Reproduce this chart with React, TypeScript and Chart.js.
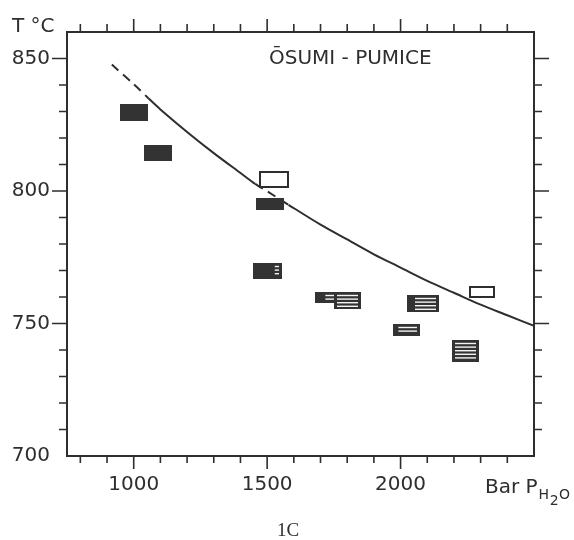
import React, { useEffect, useRef } from "react";
import { Chart, registerables } from "chart.js";

Chart.register(...registerables);

// ---- data ----
const curveP = [918, 1000, 1055, 1100, 1200, 1300, 1400, 1455, 1500, 1580, 1700, 1800, 1900, 2000, 2100, 2200, 2300, 2400, 2500];
const curveT = [847.7, 840.3, 835.0, 830.8, 822.3, 814.3, 806.8, 802.7, 799.9, 794.8, 787.3, 781.7, 776.1, 771.1, 766.1, 761.6, 757.1, 753.1, 749.1];
const dashedSegments = [0, 1, 7, 8];

const boxPMin = [950, 1040, 1470, 1460, 1448, 1680, 1750, 2023, 1973, 2194, 2256];
const boxPMax = [1055, 1145, 1583, 1563, 1554, 1767, 1851, 2144, 2073, 2294, 2354];
const boxTMin = [826.3, 811.4, 801.1, 792.9, 766.9, 757.7, 755.4, 754.5, 745.3, 735.6, 759.8];
const boxTMax = [833, 817.5, 807.4, 797.4, 773, 762, 762, 760.8, 750, 743.8, 764];
const boxKind = ["solid", "solid", "open", "solid", "hatch", "hatch", "hatch", "hatch", "hatch", "hatch", "open"];
const boxSolidFrac = [1, 1, 0, 1, 0.75, 0.45, 0.1, 0.25, 0.2, 0.1, 0];

const xTickLabels = [1000, 1500, 2000];
const yTickLabels = [700, 750, 800, 850];
const xMinorTicks = [800, 900, 1000, 1100, 1200, 1300, 1400, 1500, 1600, 1700, 1800, 1900, 2000, 2100, 2200, 2300, 2400];
const xMajorTicks = [1000, 1500, 2000];
const yMinorTicks = [710, 720, 730, 740, 750, 760, 770, 780, 790, 800, 810, 820, 830, 840, 850];
const yMajorTicks = [750, 800, 850];

const title = "ŌSUMI - PUMICE";
const yTitle = "T °C";
const xTitleMain = "Bar P";
const xTitleSub = ["H", "2", "O"];
const caption = "1C";

const INK = "#2e2e2e";
const FONT = "'DejaVu Sans', sans-serif";

const decorPlugin = {
  id: "decor",
  afterDatasetsDraw(chart: any) {
    const { ctx, scales } = chart;
    const xs = scales.x;
    const ys = scales.y;
    ctx.save();
    for (let i = 0; i < boxPMin.length; i++) {
      const l = Math.round(xs.getPixelForValue(boxPMin[i]));
      const r = Math.round(xs.getPixelForValue(boxPMax[i]));
      const t = Math.round(ys.getPixelForValue(boxTMax[i]));
      const b = Math.round(ys.getPixelForValue(boxTMin[i]));
      const w = r - l;
      const h = b - t;
      if (boxKind[i] === "open") {
        ctx.fillStyle = "#ffffff";
        ctx.fillRect(l, t, w, h);
        ctx.strokeStyle = INK;
        ctx.lineWidth = 2;
        ctx.strokeRect(l + 1, t + 1, w - 2, h - 2);
      } else if (boxKind[i] === "solid") {
        ctx.fillStyle = "#333333";
        ctx.fillRect(l, t, w, h);
      } else {
        ctx.fillStyle = "#333333";
        ctx.fillRect(l, t, w, h);
        ctx.strokeStyle = "#f4f4f4";
        ctx.lineWidth = 1.4;
        const sx = l + Math.max(3, w * boxSolidFrac[i]);
        for (let yy = t + 3.5; yy < b - 2; yy += 3.6) {
          ctx.beginPath();
          ctx.moveTo(sx, yy);
          ctx.lineTo(r - 3, yy);
          ctx.stroke();
        }
      }
    }
    ctx.restore();
  },
  afterDraw(chart: any) {
    const { ctx, chartArea, scales } = chart;
    const xs = scales.x;
    const ys = scales.y;
    const { left, right, top, bottom } = chartArea;
    ctx.save();
    ctx.strokeStyle = INK;
    ctx.lineWidth = 2;
    ctx.strokeRect(left, top, right - left, bottom - top);
    ctx.lineWidth = 1.6;
    ctx.beginPath();
    for (const v of xMinorTicks) {
      const px = xs.getPixelForValue(v);
      const major = xMajorTicks.includes(v);
      ctx.moveTo(px, bottom);
      ctx.lineTo(px, bottom + (major ? 13 : 7));
      ctx.moveTo(px, top);
      ctx.lineTo(px, top - (major ? 13 : 8));
    }
    for (const v of yMinorTicks) {
      const py = ys.getPixelForValue(v);
      const major = yMajorTicks.includes(v);
      ctx.moveTo(left, py);
      ctx.lineTo(left - (major ? 15 : 8), py);
      ctx.moveTo(right, py);
      ctx.lineTo(right + (major ? 15 : 8), py);
    }
    ctx.stroke();

    ctx.fillStyle = INK;
    ctx.textBaseline = "alphabetic";
    ctx.textAlign = "left";
    ctx.font = `20px ${FONT}`;
    ctx.fillText(yTitle, 12, 32);
    ctx.fillText(title, 269, 64);
    ctx.fillText(xTitleMain, 485, 493);
    let cx = 485 + ctx.measureText(xTitleMain).width + 1;
    ctx.font = `14px ${FONT}`;
    const subBase = [499, 505, 499];
    xTitleSub.forEach((ch, i) => {
      ctx.fillText(ch, cx, subBase[i]);
      cx += ctx.measureText(ch).width + 0.5;
    });
    ctx.font = "19px 'Liberation Serif', serif";
    ctx.fillText(caption, 277, 536);
    ctx.restore();
  },
};

export default function App() {
  const ref = useRef<HTMLCanvasElement>(null);
  useEffect(() => {
    if (!ref.current) return;
    const chart = new Chart(ref.current, {
      type: "scatter",
      data: {
        datasets: [
          {
            data: curveP.map((p, i) => ({ x: p, y: curveT[i] })),
            showLine: true,
            borderColor: INK,
            borderWidth: 2,
            pointRadius: 0,
            tension: 0.3,
            segment: {
              borderDash: (c: any) => (dashedSegments.includes(c.p0DataIndex) ? [9, 6] : undefined),
            },
          } as any,
        ],
      },
      plugins: [decorPlugin],
      options: {
        responsive: false,
        animation: false,
        devicePixelRatio: 1,
        layout: { padding: { left: 0, top: 32, right: 40, bottom: 0 } },
        plugins: { legend: { display: false }, tooltip: { enabled: false }, title: { display: false } },
        scales: {
          x: {
            type: "linear",
            min: 750,
            max: 2500,
            grid: { display: false, drawTicks: false },
            border: { display: false },
            afterBuildTicks: (s: any) => {
              s.ticks = xTickLabels.map((v) => ({ value: v }));
            },
            afterFit: (s: any) => {
              s.height = 84;
            },
            ticks: {
              autoSkip: false,
              maxRotation: 0,
              padding: 17,
              color: INK,
              font: { family: FONT, size: 20 },
              callback: (v: any) => String(v),
            },
          },
          y: {
            type: "linear",
            min: 700,
            max: 860,
            grid: { display: false, drawTicks: false },
            border: { display: false },
            afterBuildTicks: (s: any) => {
              s.ticks = yTickLabels.map((v) => ({ value: v }));
            },
            afterFit: (s: any) => {
              s.width = 67;
            },
            ticks: {
              autoSkip: false,
              padding: 17,
              color: INK,
              font: { family: FONT, size: 20 },
              callback: (v: any) => String(v),
            },
          },
        },
      } as any,
    });
    return () => chart.destroy();
  }, []);
  return (
    <div style={{ position: "absolute", left: 0, top: 0, width: 574, height: 540, background: "#fff" }}>
      <canvas ref={ref} width={574} height={540} />
    </div>
  );
}
